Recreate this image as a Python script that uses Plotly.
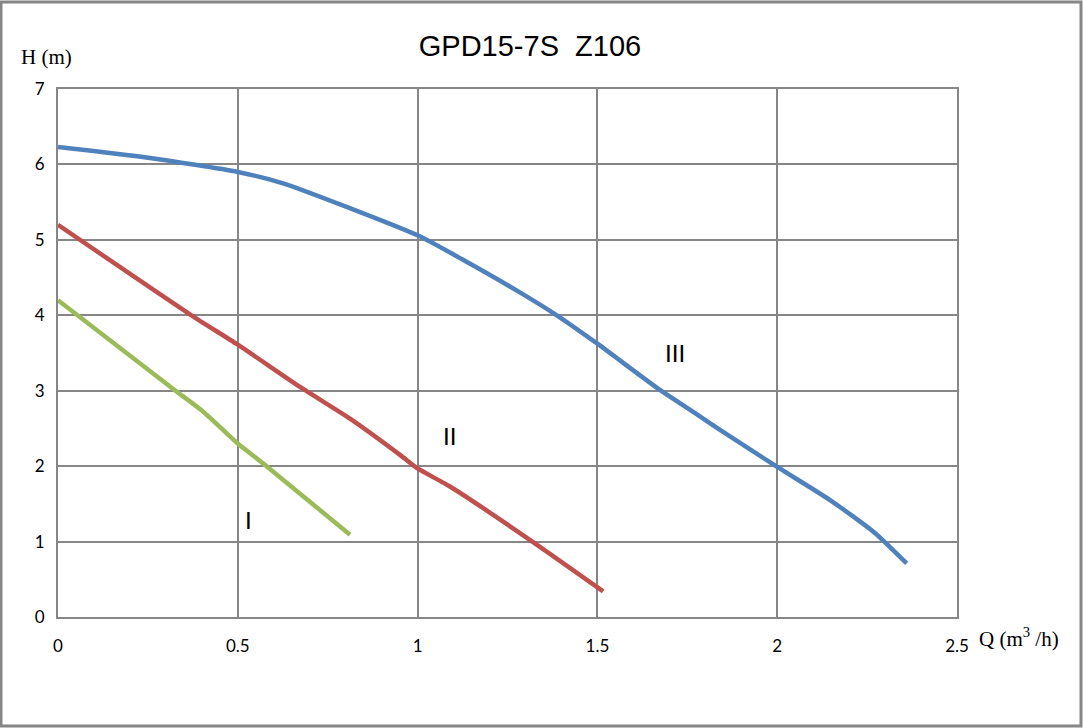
import plotly.graph_objects as go

title = "GPD15-7S  Z106"
q_I = [0.0, 0.324, 0.399, 0.459, 0.5, 0.58, 0.812]
h_I = [4.2, 3.01, 2.74, 2.48, 2.30, 2.0, 1.09]
q_II = [0.0, 0.371, 0.5, 0.673, 0.812, 0.951, 1.0, 1.09, 1.313, 1.516]
h_II = [5.20, 4.0, 3.61, 3.05, 2.63, 2.15, 1.97, 1.73, 1.02, 0.34]
q_III = [0.0, 0.256, 0.5, 0.626, 0.812, 1.0, 1.136, 1.275, 1.387, 1.498, 1.674, 1.785, 1.841, 2.0, 2.147, 2.27, 2.36]
h_III = [6.23, 6.085, 5.90, 5.75, 5.42, 5.06, 4.71, 4.33, 4.0, 3.63, 3.01, 2.66, 2.48, 1.99, 1.55, 1.12, 0.71]
labels = ["I", "II", "III"]
label_q = [0.53, 1.09, 1.716]
label_h = [1.29, 2.4, 3.51]
x_ticks = [0, 0.5, 1, 1.5, 2, 2.5]
x_tick_text = ["0", "0.5", "1", "1.5", "2", "2.5"]
y_ticks = [0, 1, 2, 3, 4, 5, 6, 7]

fig = go.Figure()
for q, h, c in [(q_I, h_I, "#9BBB59"), (q_II, h_II, "#C0504D"), (q_III, h_III, "#4F81BD")]:
    fig.add_trace(go.Scatter(x=q, y=h, mode="lines",
                             line=dict(color=c, width=4.5, shape="spline", smoothing=0.6),
                             showlegend=False, hoverinfo="skip"))

annotations = [
    dict(text=t, x=xq, y=yh, xref="x", yref="y", showarrow=False,
         font=dict(family="Lato, Liberation Sans, Arial", size=24, color="black"))
    for t, xq, yh in zip(labels, label_q, label_h)
]
annotations += [
    dict(text="H (m)", xref="paper", yref="paper", x=-12 / 899, y=1 + 32 / 528,
         showarrow=False, xanchor="center", yanchor="middle",
         font=dict(family="Liberation Serif, Times New Roman", size=21, color="black")),
    dict(text="Q (m<sup>3</sup> /h)", xref="paper", yref="paper", x=1 + 20 / 899, y=-20 / 528,
         showarrow=False, xanchor="left", yanchor="middle",
         font=dict(family="Liberation Serif, Times New Roman", size=21, color="black")),
]

fig.update_layout(
    width=1083, height=728,
    paper_bgcolor="white", plot_bgcolor="white",
    margin=dict(l=58, r=126, t=89, b=111),
    title=dict(text=title, x=(530 - 58) / 899, xref="paper", xanchor="center",
               y=1 - 46 / 728, yanchor="middle",
               font=dict(family="Liberation Sans, Arial", size=29, color="black")),
    xaxis=dict(range=[0, 2.5], tickvals=x_ticks, ticktext=x_tick_text,
               showgrid=True, gridcolor="#868686", gridwidth=2,
               showline=True, linecolor="#868686", linewidth=2, mirror=True,
               zeroline=False, ticks="", ticklabelstandoff=13,
               tickfont=dict(family="Lato, Liberation Sans, Arial", size=17, color="black")),
    yaxis=dict(range=[0, 7], tickvals=y_ticks,
               showgrid=True, gridcolor="#868686", gridwidth=2,
               showline=True, linecolor="#868686", linewidth=2, mirror=True,
               zeroline=False, ticks="", ticklabelstandoff=8,
               tickfont=dict(family="Lato, Liberation Sans, Arial", size=17, color="black")),
    shapes=[dict(type="rect", xref="paper", yref="paper", x0=-57 / 899, x1=1 + 124 / 899,
                 y0=-109 / 528, y1=1 + 87 / 528, line=dict(color="#868686", width=3))],
    annotations=annotations,
)
fig.write_html("out.html", config={"displayModeBar": False},
               post_script="document.body.style.margin='0';document.body.style.overflow='hidden';")
